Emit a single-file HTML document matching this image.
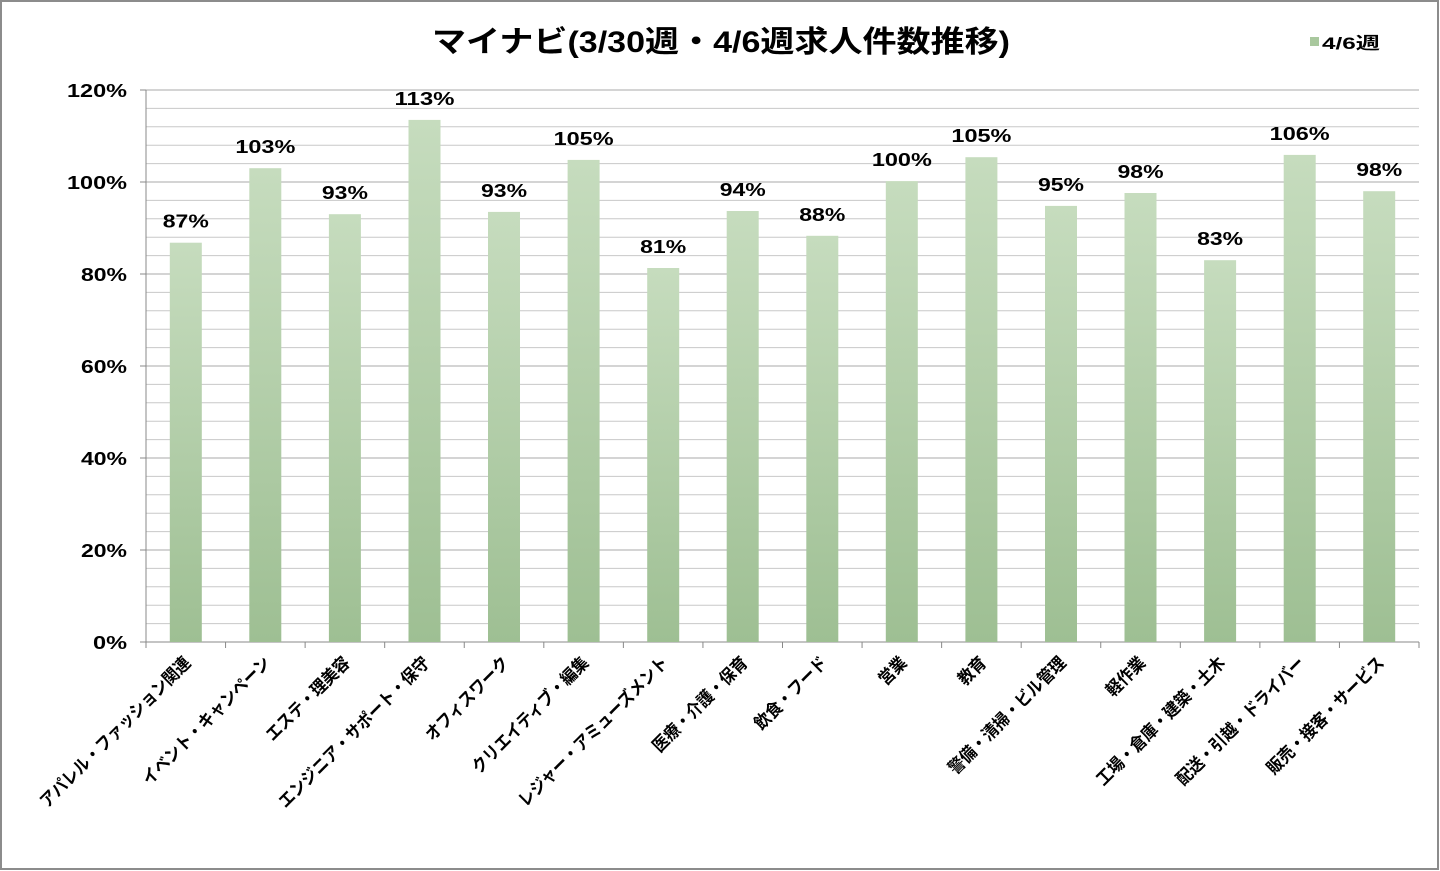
<!DOCTYPE html>
<html><head><meta charset="utf-8"><style>
html,body{margin:0;padding:0;background:#fff;}
svg{display:block;}
text{font-family:"Liberation Sans","Noto Sans CJK JP",sans-serif;font-weight:bold;fill:#000;}
</style></head><body>
<svg width="1440" height="871" viewBox="0 0 1440 871" xmlns="http://www.w3.org/2000/svg">
<defs>
<linearGradient id="g" x1="0" y1="0" x2="0" y2="1">
<stop offset="0" stop-color="#c6dcbe"/><stop offset="1" stop-color="#9ebf93"/>
</linearGradient>
</defs>
<rect x="1" y="1" width="1437" height="868" fill="#fff" stroke="#8c8c8c" stroke-width="2"/>
<text x="721" y="52" font-size="30" text-anchor="middle" textLength="578" lengthAdjust="spacingAndGlyphs">マイナビ(3/30週・4/6週求人件数推移)</text>
<rect x="1310" y="37" width="9" height="9" fill="#a9c89e"/>
<text x="1322" y="49" font-size="17" textLength="58" lengthAdjust="spacingAndGlyphs">4/6週</text>
<g id="grid" stroke="#c8c8c8" stroke-width="1"></g>
</svg>
<script>
const ns="http://www.w3.org/2000/svg";
const svg=document.querySelector('svg');
function el(t,a,p,txt){const e=document.createElementNS(ns,t);for(const k in a)e.setAttribute(k,a[k]);if(txt!=null)e.textContent=txt;(p||svg).appendChild(e);return e;}
const x0=146,x1=1419,y0=642,sc=460;
const grid=document.getElementById('grid');
for(let i=1;i<=30;i++){const y=y0-i*0.04*sc;el('line',{x1:x0,x2:x1,y1:y.toFixed(1),y2:y.toFixed(1),stroke:i%5==0?'#a8a8a8':'#c8c8c8'},grid);}
el('line',{x1:x0,x2:x0,y1:90,y2:y0,stroke:'#888'});
el('line',{x1:x0,x2:x1,y1:y0,y2:y0,stroke:'#888'});
const tl={2:34,3:46,4:60};
for(let i=0;i<=6;i++){const y=y0-i*0.2*sc;el('line',{x1:x0-6,x2:x0,y1:y,y2:y,stroke:'#888'});
const s=(i*20)+'%';el('text',{x:127-tl[s.length],y:y+7,'font-size':18,textLength:tl[s.length],lengthAdjust:'spacingAndGlyphs'},null,s);}
const cats=["アパレル・ファッション関連","イベント・キャンペーン","エステ・理美容","エンジニア・サポート・保守","オフィスワーク","クリエイティブ・編集","レジャー・アミューズメント","医療・介護・保育","飲食・フード","営業","教育","警備・清掃・ビル管理","軽作業","工場・倉庫・建築・土木","配送・引越・ドライバー","販売・接客・サービス"];
const vals=[.868,1.03,.93,1.135,.935,1.048,.813,.937,.883,1.002,1.054,.948,.976,.83,1.059,.98];
const labs=["87%","103%","93%","113%","93%","105%","81%","94%","88%","100%","105%","95%","98%","83%","106%","98%"];
const w=(x1-x0)/16;
for(let i=0;i<16;i++){const cx=x0+(i+.5)*w;const top=y0-vals[i]*sc;
el('rect',{x:(cx-16).toFixed(1),y:top.toFixed(1),width:32,height:(y0-top).toFixed(1),fill:'url(#g)'});
const L=tl[labs[i].length];
el('text',{x:cx-L/2,y:top-15,'font-size':18,textLength:L,lengthAdjust:'spacingAndGlyphs'},null,labs[i]);
const tx=x0+(i+1)*w;el('line',{x1:tx,x2:tx,y1:y0,y2:y0+6,stroke:'#888'});
const ax=cx+6,ay=664;
const t=el('text',{x:ax,y:ay,'font-size':17.5,'text-anchor':'end',transform:`rotate(-45 ${ax} ${ay})`},null,cats[i]);
const len=t.getComputedTextLength();t.setAttribute('textLength',(len*0.9).toFixed(1));t.setAttribute('lengthAdjust','spacingAndGlyphs');}
el('line',{x1:x0,x2:x0,y1:y0,y2:y0+6,stroke:'#888'});
</script>
</body></html>
